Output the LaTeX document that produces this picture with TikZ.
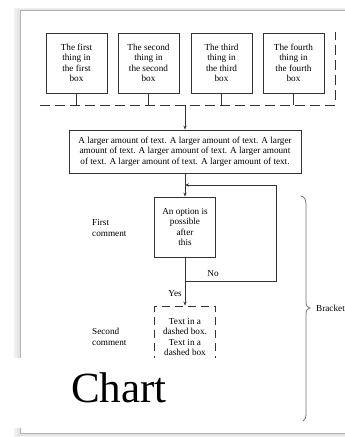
\documentclass[tikz,border=0pt]{standalone}
\usepackage{fontspec}
\setmainfont{Liberation Serif}
\usetikzlibrary{arrows.meta}
\newcommand{\boxfont}{\fontsize{9.2}{10.4}\selectfont}
\begin{document}
\begin{tikzpicture}[x=1pt,y=-1pt,
  ln/.style={draw=black!80,line width=0.8pt},
  arr/.style={ln,-{Stealth[length=4pt,width=3.2pt]}},
  box/.style={ln,minimum width=61pt,minimum height=60pt,inner sep=0pt,align=center,font=\boxfont,text=black},
  lbl/.style={font=\boxfont,text=black,inner sep=0pt},
  page/.style={draw=black!30,line width=0.9pt}]
\useasboundingbox (0,0) rectangle (345,437);
\clip (0,0) rectangle (345,437);
\fill[white] (0,0) rectangle (345,437);
% page and its shadow
\fill[black!6] (14,8) rectangle (345,437);
\fill[black!10] (17,9) rectangle (345,436);
\fill[white] (20,10) rectangle (345,433);
\draw[page] (345,10) -- (20,10) -- (20,433) -- (345,433);
% top boxes
\node[box] (b1) at (76.5,63) {The first\\thing in\\the first\\box};
\node[box] (b2) at (148.5,63) {The second\\thing in\\the second\\box};
\node[box] (b3) at (221.5,63) {The third\\thing in\\the third\\box};
\node[box] (b4) at (293.5,63) {The fourth\\thing in\\the fourth\\box};
% dashed bus
\coordinate (busL) at (40,105);
\coordinate (busR) at (335,105);
\coordinate (busT) at (335,32);
\coordinate (busC) at (185,105);
\draw[ln,dash pattern=on 10pt off 5pt] (busL) -- (busR) -- (busT);
\foreach \b in {b1,b2,b3,b4}{\draw[ln] (\b.south) -- (\b.south |- busL);}
% big box
\node[box,minimum width=232pt,minimum height=43pt] (big) at (185,151.5)
 {A larger amount of text. A larger amount of text. A larger\\
  amount of text. A larger amount of text. A larger amount\\
  of text. A larger amount of text. A larger amount of text.};
\draw[arr] (busC) -- (big.north);
% option box
\node[box] (opt) at (185,227) {An option is\\possible\\after\\this};
\draw[arr] (big.south) -- (opt.north);
% dashed box
\node[box,dash pattern=on 8pt off 5pt,minimum height=62pt] (dbox) at (185,337)
 {Text in a\\dashed box.\\Text in a\\dashed box};
\draw[arr] (opt.south) -- (dbox.north);
% loop back
\coordinate (nj) at (185,281);
\coordinate (lr) at (276,281);
\coordinate (ur) at (276,185);
\coordinate (ul) at (185,185);
\draw[arr] (nj) -- (lr) -- (ur) -- (ul);
\node[lbl] (no) at (213,274) {No};
\node[lbl] (yes) at (175,294) {Yes};
% comments
\node[lbl,anchor=west,align=left] (c1) at (92,228) {First\\comment};
\node[lbl,anchor=west,align=left] (c2) at (92,337) {Second\\comment};
% brace
\draw[draw=black!55,line width=0.8pt]
  (301,196) .. controls (305,197) and (306,200) .. (306,205)
  -- (306,302) .. controls (306,306) and (308,308) .. (310,308)
  .. controls (308,308) and (306,310) .. (306,314)
  -- (306,414) .. controls (306,418) and (305,420) .. (303,421);
\node[lbl,anchor=west] (br) at (316,308) {Bracket};
% overlay with title
\fill[white] (0,358) rectangle (250,428);
\node[anchor=base west,inner sep=0pt,font=\fontsize{43}{43}\selectfont] (chart) at (71,402) {Chart};
\end{tikzpicture}
\end{document}
